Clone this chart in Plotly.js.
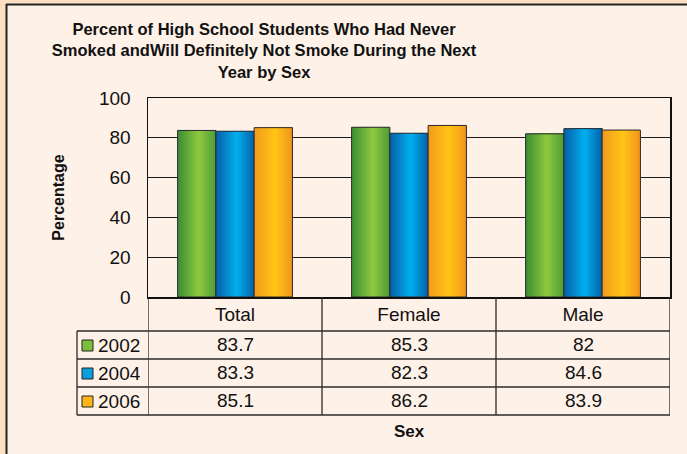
<!DOCTYPE html>
<html>
<head>
<meta charset="utf-8">
<script src="https://cdn.plot.ly/plotly-3.0.1.min.js"></script>
<style>html,body{margin:0;padding:0;background:#fef1e8;}#chart{width:687px;height:454px;}</style>
</head>
<body>
<div id="chart"></div>
<script>
// ---- data ----
const categories = ['Total', 'Female', 'Male'];
const years = ['2002', '2004', '2006'];
const v2002 = [83.7, 85.3, 82];
const v2004 = [83.3, 82.3, 84.6];
const v2006 = [85.1, 86.2, 83.9];
const series = [v2002, v2004, v2006];
const yTicks = [0, 20, 40, 60, 80, 100];

// ---- style ----
const FONT = '"Liberation Sans", Arial, Helvetica, sans-serif';
const grad = [
  ['#3a8c34', '#8fc93f', '#4e9b37'],
  ['#0a5ea8', '#00b0ef', '#0461a8'],
  ['#f39a1e', '#ffc515', '#f2941c']
];
const midColor = ['#7cbf3d', '#0a9ee0', '#fdb515'];
const L = 148, R = 670, T = 98, B = 297;
const xp = px => (px - L) / (R - L);
const yp = py => (B - py) / (B - T);

function hex(c){return [1,3,5].map(i=>parseInt(c.substr(i,2),16));}
function mix(a,b,t){const A=hex(a),B2=hex(b);return 'rgb('+A.map((v,i)=>Math.round(v+(B2[i]-v)*t)).join(',')+')';}
function gradColor(g, t){const peak=0.55; return t<peak?mix(g[0],g[1],t/peak):mix(g[1],g[2],(t-peak)/(1-peak));}

const groupW = 0.66, barW = groupW / 3, N = 16;
const traces = [];
series.forEach((vals, s) => {
  const base = -groupW / 2 + s * barW;
  for (let j = 0; j < N; j++) {
    traces.push({
      type: 'bar', x: categories, y: vals,
      offset: base + j * barW / N, width: barW - j * barW / N,
      marker: {color: gradColor(grad[s], (j + 0.5) / N), line: {width: 0}},
      hoverinfo: 'skip', showlegend: false
    });
  }
  traces.push({
    type: 'bar', x: categories, y: vals, name: years[s],
    offset: base, width: barW,
    marker: {color: 'rgba(0,0,0,0)', line: {color: '#2b2b2b', width: 1}},
    hoverinfo: 'skip', showlegend: false
  });
});

// ---- table ----
const shapes = [];
const annotations = [];
const lineC = '#2a2a2a';
// frame
shapes.push({type:'rect', xref:'paper', yref:'paper', x0:xp(0), x1:xp(6), y0:yp(454), y1:yp(0), fillcolor:'#fde0c1', line:{width:0}});
shapes.push({type:'rect', xref:'paper', yref:'paper', x0:xp(0), x1:xp(687), y0:yp(3.5), y1:yp(0), fillcolor:'#fde0c1', line:{width:0}});
shapes.push({type:'line', xref:'paper', yref:'paper', x0:xp(6.5), x1:xp(6.5), y0:yp(454), y1:yp(4), line:{color:'#222', width:2}});
shapes.push({type:'line', xref:'paper', yref:'paper', x0:xp(6), x1:xp(687), y0:yp(4.5), y1:yp(4.5), line:{color:'#222', width:2}});

const rowTop = 331, rowH = 28, legX = 77;
for (let k = 0; k <= categories.length; k++) {
  shapes.push({type:'line', xref:'x', yref:'paper', x0:k - 0.5, x1:k - 0.5, y0:yp(B), y1:yp(rowTop + rowH * years.length), line:{color:lineC, width:1.3}});
}
shapes.push({type:'line', xref:'paper', yref:'paper', x0:xp(legX), x1:xp(legX), y0:yp(rowTop), y1:yp(rowTop + rowH * years.length), line:{color:lineC, width:1.3}});
for (let r = 0; r <= years.length; r++) {
  shapes.push({type:'line', xref:'paper', yref:'paper', x0:xp(legX), x1:1, y0:yp(rowTop + r * rowH), y1:yp(rowTop + r * rowH), line:{color:lineC, width:1.3}});
}
years.forEach((yr, r) => {
  const cy = rowTop + r * rowH + rowH / 2;
  shapes.push({type:'rect', xref:'paper', yref:'paper', x0:xp(82), x1:xp(93), y0:yp(cy + 6), y1:yp(cy - 5), fillcolor:midColor[r], line:{color:'#222', width:1}});
  annotations.push({xref:'paper', yref:'paper', x:xp(96), y:yp(cy), text:yr, showarrow:false, xanchor:'left', yanchor:'middle', font:{family:FONT, size:19, color:'#111'}});
  categories.forEach((c, i) => {
    annotations.push({xref:'x', yref:'paper', x:i, y:yp(cy - 1), text:String(series[r][i]), showarrow:false, xanchor:'center', yanchor:'middle', font:{family:FONT, size:19, color:'#111'}});
  });
});

const layout = {
  width: 687, height: 454,
  paper_bgcolor: '#fef1e8', plot_bgcolor: 'rgba(0,0,0,0)',
  margin: {l: L, r: 687 - R, t: T, b: 454 - B, pad: 0},
  barmode: 'overlay',
  showlegend: false,
  font: {family: FONT, color: '#111'},
  title: {
    text: '<b>Percent of High School Students Who Had Never<br>Smoked andWill Definitely Not Smoke During the Next<br>Year by Sex</b>',
    font: {family: FONT, size: 16.5, color: '#111'},
    xref: 'container', yref: 'container', x: 264 / 687, xanchor: 'center', y: 1 - 35 / 454, yanchor: 'top'
  },
  xaxis: {
    type: 'category', range: [-0.5, 2.5], categoryorder: 'array', categoryarray: categories,
    showline: true, mirror: true, linecolor: '#111', linewidth: 1.5, ticks: '', showgrid: false,
    tickfont: {family: FONT, size: 19, color: '#111'}, ticklabelstandoff: 0,
    title: {text: '<b>Sex</b>', font: {family: FONT, size: 17, color: '#111'}, standoff: 101}
  },
  yaxis: {
    range: [0, 100], tickvals: yTicks, ticktext: yTicks.map(String),
    showline: true, mirror: true, linecolor: '#111', linewidth: 1.5, ticks: '',
    showgrid: true, gridcolor: '#1a1a1a', gridwidth: 1, zeroline: false,
    tickfont: {family: FONT, size: 19, color: '#111'}, ticklabelstandoff: 12,
    title: {text: '<b>Percentage</b>', font: {family: FONT, size: 16, color: '#111'}, standoff: 30}
  },
  shapes: shapes,
  annotations: annotations
};

Plotly.newPlot('chart', traces, layout, {displayModeBar: false, staticPlot: true});
</script>
</body>
</html>
